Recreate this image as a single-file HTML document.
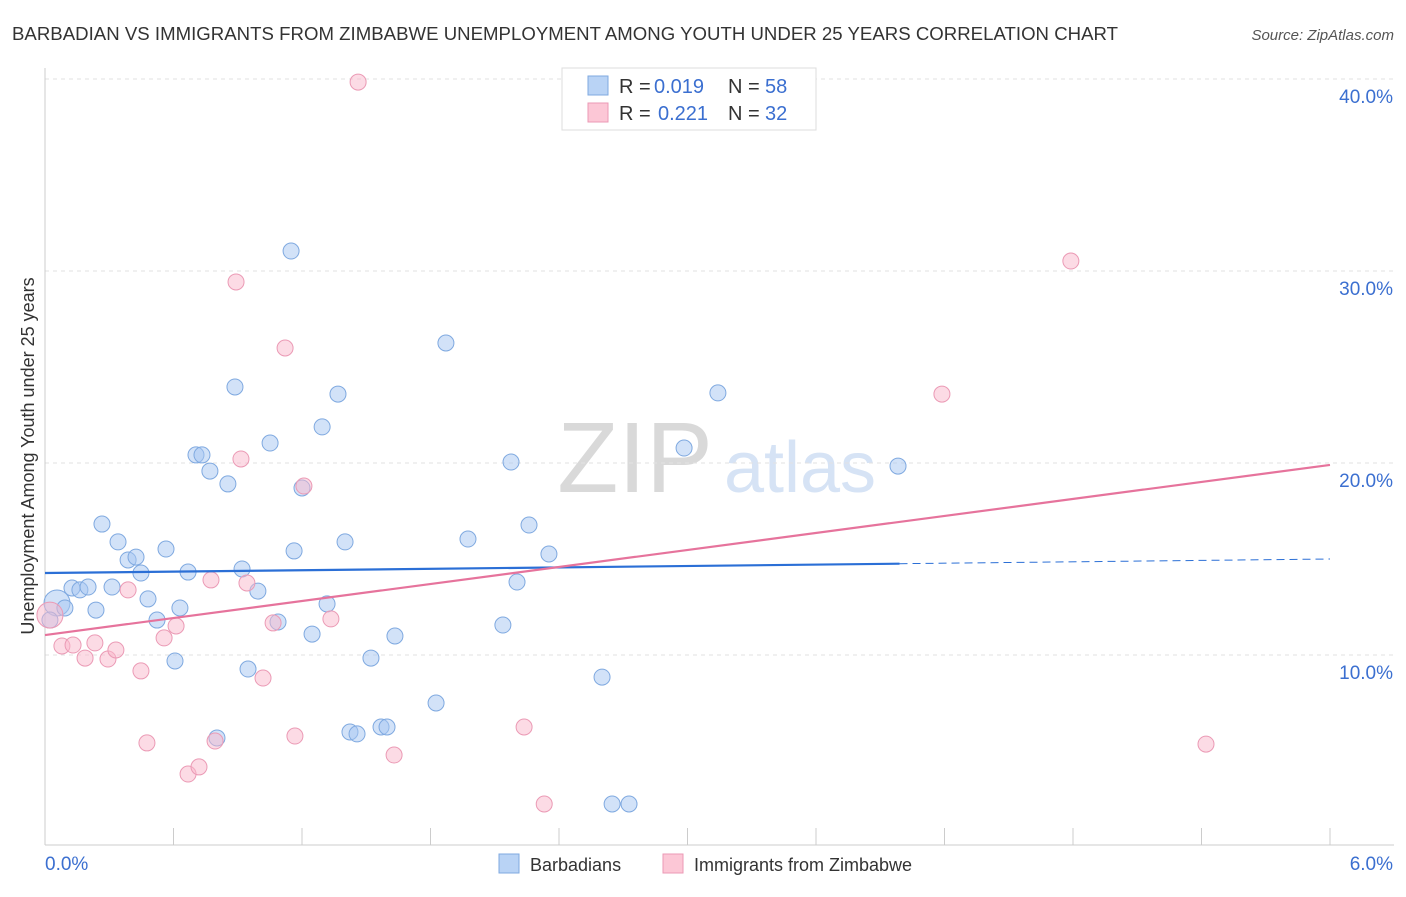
<!DOCTYPE html>
<html><head><meta charset="utf-8"><style>
body{margin:0;background:#fff;font-family:"Liberation Sans",sans-serif;}
svg text{font-family:"Liberation Sans",sans-serif;}
</style></head><body>
<svg id="c" width="1406" height="892">
<text x="12" y="40" font-size="18.6" fill="#333" textLength="1106">BARBADIAN VS IMMIGRANTS FROM ZIMBABWE UNEMPLOYMENT AMONG YOUTH UNDER 25 YEARS CORRELATION CHART</text>
<text x="1394" y="40" font-size="15" fill="#555" font-style="italic" text-anchor="end">Source: ZipAtlas.com</text>
<text x="635" y="492" font-size="100" fill="#d9d9d9" font-family="Liberation Serif" text-anchor="middle">ZIP</text>
<text x="800" y="492" font-size="72" fill="#d6e3f5" text-anchor="middle">atlas</text>
<g id="grid"></g><g id="marks"></g>
<text transform="translate(34,456) rotate(-90)" font-size="18" fill="#333" text-anchor="middle">Unemployment Among Youth under 25 years</text>
<g>
<rect x="562" y="68" width="254" height="62" fill="#fff" stroke="#ddd"/>
<rect x="588" y="76" width="20" height="19" fill="#b9d3f5" stroke="#7fa9e0"/>
<rect x="588" y="103" width="20" height="19" fill="#fcc7d6" stroke="#eb9ab5"/>
<text x="619" y="93" font-size="20" fill="#333">R =</text>
<text x="654" y="93" font-size="20" fill="#3b6fd0">0.019</text>
<text x="728" y="93" font-size="20" fill="#333">N =</text>
<text x="765" y="93" font-size="20" fill="#3b6fd0">58</text>
<text x="619" y="120" font-size="20" fill="#333">R =</text>
<text x="658" y="120" font-size="20" fill="#3b6fd0">0.221</text>
<text x="728" y="120" font-size="20" fill="#333">N =</text>
<text x="765" y="120" font-size="20" fill="#3b6fd0">32</text>
</g>
<g>
<rect x="499" y="854" width="20" height="19" fill="#b9d3f5" stroke="#7fa9e0"/>
<text x="530" y="871" font-size="18" fill="#333">Barbadians</text>
<rect x="663" y="854" width="20" height="19" fill="#fcc7d6" stroke="#eb9ab5"/>
<text x="694" y="871" font-size="18" fill="#333">Immigrants from Zimbabwe</text>
</g>
</svg>
<script>
const blueX=[0.056,0.093,0.126,0.163,0.201,0.238,0.266,0.313,0.341,0.388,0.425,0.448,0.481,0.523,0.565,0.607,0.630,0.668,0.705,0.733,0.770,0.854,0.887,0.920,0.948,0.994,0.803,1.051,1.088,1.149,1.163,1.200,1.247,1.294,1.317,1.368,1.401,1.424,1.457,1.522,1.569,1.597,1.634,1.826,1.872,1.975,2.138,2.176,2.204,2.260,2.353,2.601,2.648,2.727,2.984,3.142,3.983,0.023];
const blueY=[12.71,12.45,13.49,13.39,13.54,12.34,16.82,13.54,15.89,14.95,15.10,14.27,12.92,11.82,15.52,9.69,12.45,14.32,20.42,20.42,19.58,18.91,23.96,14.48,9.27,13.33,5.68,21.04,11.72,31.04,15.42,18.70,11.09,21.88,12.66,23.59,15.89,5.99,5.89,9.84,6.25,6.25,10.99,7.50,26.25,16.04,11.56,20.05,13.80,16.77,15.26,8.85,2.24,2.24,20.78,23.65,19.84,11.82];
const pinkX=[0.023,0.079,0.131,0.187,0.233,0.294,0.331,0.388,0.448,0.476,0.556,0.612,0.668,0.719,0.775,0.794,0.892,0.915,0.943,1.018,1.065,1.121,1.167,1.209,1.335,1.462,1.630,2.237,2.331,4.188,4.790,5.421];
const pinkY=[12.08,10.47,10.52,9.84,10.63,9.79,10.26,13.39,9.17,5.42,10.89,11.51,3.80,4.17,13.91,5.52,29.43,20.21,13.75,8.80,11.67,25.99,5.78,18.80,11.88,39.84,4.79,6.25,2.24,23.59,30.52,5.36];
const blueTrend=[14.27,15.0]; const blueSolidEnd=3.99;
const pinkTrend=[11.04,19.90];
const yTicks=[10,20,30,40];
const xTickLabels=["0.0%","6.0%"];
const NS="http://www.w3.org/2000/svg";
const X=v=>45+v/6*1285, Y=v=>847-v*19.2;
function mk(t,a,p){const e=document.createElementNS(NS,t);for(const k in a)e.setAttribute(k,a[k]);p.appendChild(e);return e;}
const g=document.getElementById('grid'),m=document.getElementById('marks');
mk('line',{x1:45,y1:Y(40),x2:1394,y2:Y(40),stroke:'#ddd','stroke-dasharray':'4,4'},g);
for(const t of yTicks){
 const l=mk('line',{x1:45,y1:Y(t),x2:1394,y2:Y(t),stroke:'#e2e2e2','stroke-dasharray':'4,4'},g);
 
 
 const tx=mk('text',{x:1393,y:Y(t)+24,'font-size':19,fill:'#3b6fd0','text-anchor':'end'},g);tx.textContent=t.toFixed(1)+'%';
 
 
}
mk('line',{x1:45,y1:68,x2:45,y2:845,stroke:'#ccc'},g);
mk('line',{x1:45,y1:845,x2:1394,y2:845,stroke:'#ccc'},g);
for(let i=1;i<=10;i++){const x=X(i*0.6);mk('line',{x1:x,y1:828,x2:x,y2:845,stroke:'#ccc'},g);}
let a=mk('text',{x:45,y:870,'font-size':19,fill:'#3b6fd0'},g);a.textContent=xTickLabels[0];


a=mk('text',{x:1393,y:870,'font-size':19,fill:'#3b6fd0','text-anchor':'end'},g);a.textContent=xTickLabels[1];


function pts(xs,ys,fill,stroke,name,bigIdx){
 xs.forEach((x,i)=>{const c=mk('circle',{cx:X(x),cy:Y(ys[i]),r:i===bigIdx?13:8,fill:fill,stroke:stroke,'stroke-width':1},m);
 
 });
}
pts(blueX,blueY,'rgba(165,198,242,0.5)','#7fa9e0','barbadian-point',0);
pts(pinkX,pinkY,'rgba(249,183,203,0.5)','#eb9ab5','zimbabwe-point',0);
const bt=v=>blueTrend[0]+(blueTrend[1]-blueTrend[0])*v/6;
let l=mk('line',{x1:X(0),y1:Y(bt(0)),x2:X(blueSolidEnd),y2:Y(bt(blueSolidEnd)),stroke:'#2b6fd6','stroke-width':2.2},m);


l=mk('line',{x1:X(blueSolidEnd),y1:Y(bt(blueSolidEnd)),x2:X(6),y2:Y(bt(6)),stroke:'#2b6fd6','stroke-width':1,'stroke-dasharray':'8,5'},m);


l=mk('line',{x1:X(0),y1:Y(pinkTrend[0]),x2:X(6),y2:Y(pinkTrend[1]),stroke:'#e6739c','stroke-width':2.2},m);


</script>
</body></html>
